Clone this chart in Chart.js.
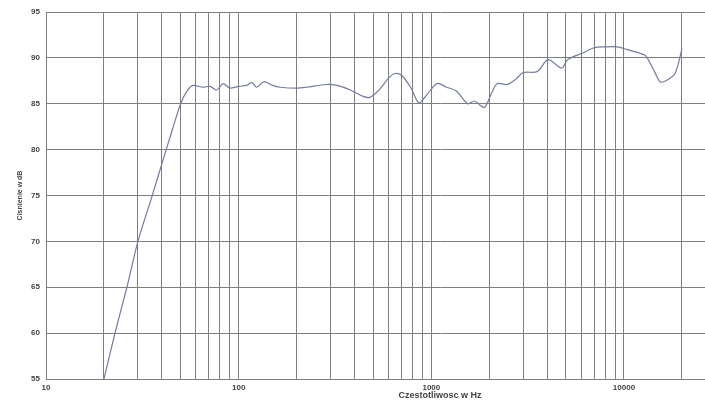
<!DOCTYPE html>
<html>
<head>
<meta charset="utf-8">
<script src="https://cdn.jsdelivr.net/npm/chart.js@4"></script>
<style>
  html, body { margin: 0; padding: 0; background: #fff; overflow: hidden; }
  #wrap { width: 834px; height: 411px; }
</style>
</head>
<body>
<div id="wrap"><canvas id="freqChart"></canvas></div>
<script>
// frequency response
const freqs = [20, 22.8, 26.3, 30, 35, 40, 45, 50, 54, 58, 65, 71, 77, 83, 90, 100, 110, 117, 124, 135, 150, 164,
  200, 225, 284, 324, 380, 443, 479, 541, 600, 647, 700, 780, 863, 950, 1070, 1200, 1350, 1543, 1670, 1780, 1890,
  2070, 2200, 2470, 2750, 3000, 3540, 4040, 4750, 5100, 6050, 7000, 8000, 9200, 10400, 12100, 13000, 14400, 15400,
  16500, 18400, 20000];
const levels = [55, 60, 65, 70, 74.5, 78.5, 82, 85, 86.4, 87.0, 86.8, 86.9, 86.5, 87.2, 86.7, 86.9, 87.0, 87.3, 86.8, 87.4, 87.0, 86.8,
  86.7, 86.8, 87.1, 87.0, 86.5, 85.8, 85.7, 86.6, 87.8, 88.3, 88.1, 86.8, 85.1, 86.0, 87.2, 86.8, 86.4, 85.0, 85.3, 84.9, 84.6,
  86.3, 87.2, 87.1, 87.7, 88.4, 88.5, 89.8, 88.9, 89.8, 90.5, 91.1, 91.2, 91.2, 90.9, 90.5, 90.2, 88.5, 87.4,
  87.5, 88.3, 91.0];

const gridFreqs = [10, 20, 30, 40, 50, 60, 70, 80, 90, 100, 200, 300, 400, 500, 600, 700, 800, 900,
  1000, 2000, 3000, 4000, 5000, 6000, 7000, 8000, 9000, 10000, 20000, 30000, 40000, 50000, 60000, 70000, 80000, 90000, 100000];
const decadeLabels = [10, 100, 1000, 10000, 100000];

const points = freqs.map((f, i) => ({ x: f, y: levels[i] }));

const tickFont = { family: 'Liberation Sans, Arial', size: 8, weight: 'bold' };

new Chart(document.getElementById('freqChart'), {
  type: 'scatter',
  data: {
    datasets: [{
      data: points,
      showLine: true,
      borderColor: '#737ca0',
      borderWidth: 1.2,
      pointRadius: 0,
      tension: 0.3
    }]
  },
  options: {
    responsive: true,
    maintainAspectRatio: false,
    animation: false,
    layout: { padding: { top: 12, right: 0, left: 0, bottom: 0 } },
    plugins: { legend: { display: false }, tooltip: { enabled: false } },
    scales: {
      x: {
        type: 'logarithmic',
        min: 10,
        max: 122850,
        afterBuildTicks: scale => { scale.ticks = gridFreqs.map(v => ({ value: v })); },
        afterFit: scale => { scale.height = 32; },
        grid: { color: '#7e7e7e', lineWidth: 1, drawTicks: false },
        border: { color: '#7e7e7e' },
        ticks: {
          autoSkip: false,
          maxRotation: 0,
          padding: 4,
          color: '#444',
          font: tickFont,
          callback: v => decadeLabels.includes(v) ? String(v) : ''
        },
        title: {
          display: true,
          text: 'Czestotliwosc w Hz',
          color: '#444',
          font: { family: 'Liberation Sans, Arial', size: 9, weight: 'bold' },
          padding: { top: 0, bottom: 10 }
        }
      },
      y: {
        min: 55,
        max: 95,
        afterFit: scale => { scale.width = 46; },
        grid: { color: '#7e7e7e', lineWidth: 1, drawTicks: false },
        border: { color: '#7e7e7e' },
        ticks: { stepSize: 5, padding: 6, color: '#444', font: tickFont },
        title: {
          display: true,
          text: 'Cisnienie w dB',
          color: '#444',
          font: { family: 'Liberation Sans, Arial', size: 7, weight: 'bold' },
          padding: { top: 16, bottom: 0 }
        }
      }
    }
  }
});
</script>
</body>
</html>
